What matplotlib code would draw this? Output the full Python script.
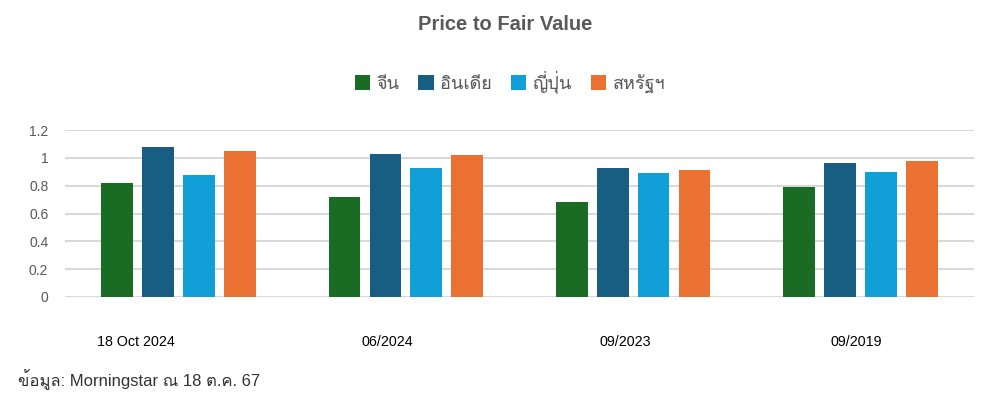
import matplotlib
matplotlib.use("Agg")
import matplotlib.pyplot as plt
import numpy as np
from matplotlib import font_manager, ft2font
from matplotlib.patches import Patch

categories = ["18 Oct 2024", "06/2024", "09/2023", "09/2019"]
series_names = ["จีน", "อินเดีย", "ญี่ปุ่น", "สหรัฐฯ"]
china = [0.82, 0.72, 0.68, 0.79]
india = [1.08, 1.03, 0.93, 0.96]
japan = [0.88, 0.93, 0.89, 0.90]
usa = [1.05, 1.02, 0.91, 0.98]
yticks = [0, 0.2, 0.4, 0.6, 0.8, 1, 1.2]
ytick_labels = ["0", "0.2", "0.4", "0.6", "0.8", "1", "1.2"]
title = "Price to Fair Value"
footer = "ข้อมูล: Morningstar ณ 18 ต.ค. 67"

colors = ["#1A6B24", "#175E82", "#109FD6", "#EB7132"]


def find_thai():
    prefer = []
    others = []
    for f in font_manager.fontManager.ttflist:
        try:
            ft = ft2font.FT2Font(f.fname)
            cm = ft.get_charmap()
            if 0x0E08 in cm and 0x0E19 in cm:
                if f.style == "normal" and f.weight in (400, "normal"):
                    prefer.append(f.name)
                else:
                    others.append(f.name)
        except Exception:
            pass
    for n in prefer + others:
        if "Loop" in n or "Looped" in n:
            continue
        return n
    return (prefer + others)[0] if (prefer + others) else None


thai = find_thai()
fam = ["Liberation Sans", "DejaVu Sans"]
thai_fam = ([thai] if thai else []) + fam
mixed_fam = ["Liberation Sans"] + ([thai] if thai else []) + ["DejaVu Sans"]
plt.rcParams["font.family"] = fam

fig = plt.figure(figsize=(9.82, 3.96), dpi=100)
ax = fig.add_axes([65 / 982, 99 / 396, 909 / 982, 167 / 396])
ax.set_axisbelow(True)

data = [china, india, japan, usa]
x = np.arange(len(categories))
pitch = 0.18
width = 0.14
for i, (vals, c) in enumerate(zip(data, colors)):
    ax.bar(x + (i - 1.5) * pitch, vals, width=width, color=c, zorder=3)

ax.set_xlim(-0.5, len(categories) - 0.5)
ax.set_ylim(0, 1.2)
ax.set_yticks(yticks)
ax.set_yticklabels(ytick_labels)
ax.tick_params(axis="y", length=0, pad=12, labelsize=10, labelcolor="#595959")
ax.tick_params(axis="x", length=0)
ax.set_xticks([])
ax.grid(axis="y", color="#d9d9d9", linewidth=1.5)
for s in ax.spines.values():
    s.set_visible(False)

label_offsets = [-0.19, -0.08, -0.035, -0.02]
for xi, lab, off in zip(x, categories, label_offsets):
    ax.text(xi + off, -0.32, lab, ha="center", va="center", fontsize=10.3,
            color="#000000", transform=ax.transData, clip_on=False)

fig.text(505 / 982, 1 - 24 / 396, title, ha="center", va="center", fontsize=14.5,
         fontweight="bold", color="#595959", family=fam)

handles = [Patch(facecolor=c, edgecolor="none") for c in colors]
leg = fig.legend(handles, series_names, loc="center", bbox_to_anchor=(510 / 982, 1 - 82 / 396),
                 ncol=4, frameon=False, handlelength=0.85, handleheight=0.85,
                 handletextpad=0.35, columnspacing=1.05,
                 prop={"family": thai_fam, "size": 13})
for t in leg.get_texts():
    t.set_color("#595959")

fig.text(18 / 982, 1 - 380 / 396, footer, ha="left", va="center", fontsize=12,
         color="#333333", family=mixed_fam)

fig.savefig("out.png", dpi=100)
